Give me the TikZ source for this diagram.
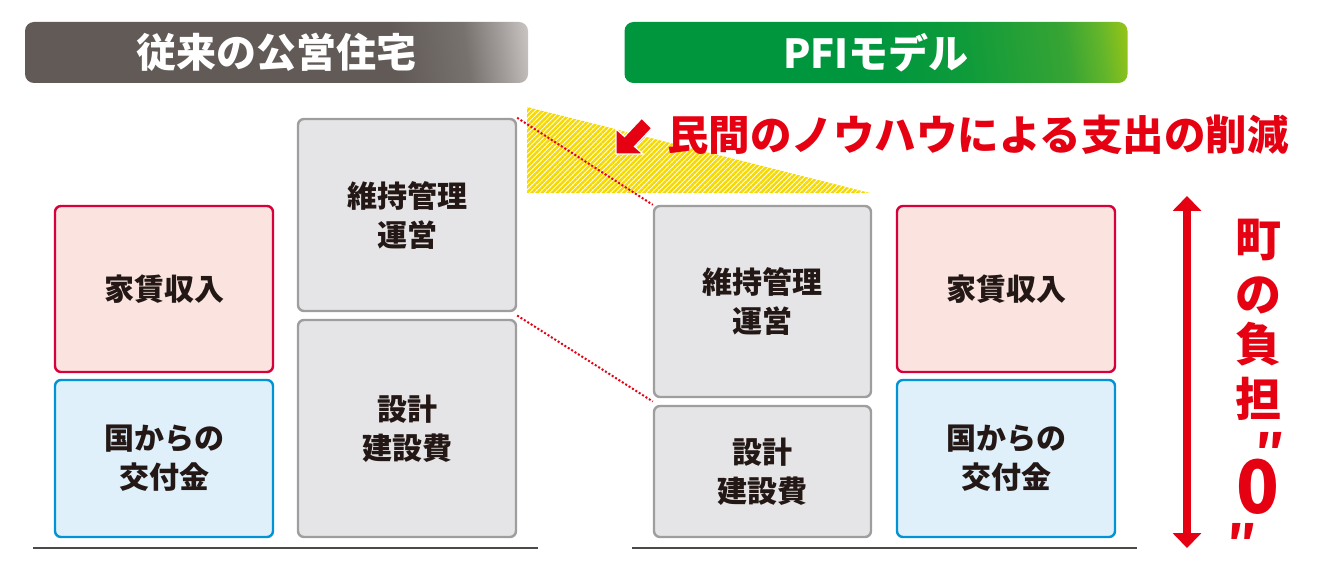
\documentclass[tikz,border=0pt]{standalone}
\usepackage{fontspec}
\setmainfont{Noto Sans CJK JP}
\usepackage{graphicx}
\usetikzlibrary{arrows.meta,patterns.meta,calc}

\definecolor{txt}{HTML}{231815}
\definecolor{redL}{HTML}{D7003A}
\definecolor{redF}{HTML}{FBE4DF}
\definecolor{blueL}{HTML}{0093D6}
\definecolor{blueF}{HTML}{DFF0FA}
\definecolor{grayL}{HTML}{9E9E9F}
\definecolor{grayF}{HTML}{E5E5E7}
\definecolor{accent}{HTML}{E50012}
\definecolor{hatchY}{HTML}{F5D800}
\definecolor{baseL}{HTML}{4D4947}
\definecolor{hdA}{HTML}{615A57}
\definecolor{hdB}{HTML}{78726F}
\definecolor{hdC}{HTML}{A29D9A}
\definecolor{hdD}{HTML}{D2CECB}
\definecolor{gnA}{HTML}{00963E}
\definecolor{gnB}{HTML}{0F9B3A}
\definecolor{gnC}{HTML}{37A434}
\definecolor{gnD}{HTML}{62B52B}
\definecolor{gnE}{HTML}{A3C812}

\pgfdeclarehorizontalshading{grayhead}{100bp}{color(0bp)=(hdA); color(25bp)=(hdA); color(63bp)=(hdA); color(71bp)=(hdB); color(75bp)=(hdC); color(79bp)=(hdD); color(100bp)=(hdD)}
\pgfdeclarehorizontalshading{greenhead}{100bp}{color(0bp)=(gnA); color(25bp)=(gnA); color(50bp)=(gnA); color(60bp)=(gnB); color(71bp)=(gnC); color(75bp)=(gnD); color(79bp)=(gnE); color(100bp)=(gnE)}

\begin{document}
\begin{tikzpicture}[x=1pt,y=-1pt,
  box/.style={rounded corners=6pt, line width=2.4pt, inner sep=0pt, align=center, text=txt,
    font=\fontsize{30pt}{39pt}\selectfont\bfseries},
  rentbox/.style={box, draw=redL, fill=redF},
  govbox/.style={box, draw=blueL, fill=blueF},
  costbox/.style={box, draw=grayL, fill=grayF},
  header/.style={rounded corners=9pt, minimum width=503pt, minimum height=61pt, text=white,
    font=\fontsize{40pt}{40pt}\selectfont\bfseries, inner sep=0pt, shade, shading angle=8},
  dotline/.style={accent, line width=2pt, dash pattern=on 2pt off 2pt},
  vchar/.style={text=accent, font=\fontsize{46pt}{46pt}\selectfont\bfseries, inner sep=0pt},
  baseline/.style={baseL, line width=2pt}
  ]
\useasboundingbox (0,0) rectangle (1324,577);

% headers
\node[header, shading=grayhead] (h1) at (276.5,52.5) {従来の公営住宅};
\node[header, shading=greenhead] (h2) at (876,52.5) {PFIモデル};

% hatched reduction area
\fill[pattern={Lines[angle=45,distance=3.6pt,line width=2.5pt]}, pattern color=hatchY]
  (527,107) -- (870,193) -- (527,193) -- cycle;

% left column
\node[rentbox, minimum width=218pt, minimum height=166pt] (lr) at (164,289) {家賃収入};
\node[govbox, minimum width=218pt, minimum height=157pt] (lg) at (164,458.5) {国からの\\交付金};
\node[costbox, minimum width=218pt, minimum height=192pt] (lm) at (407,215) {維持管理\\運営};
\node[costbox, minimum width=218pt, minimum height=217pt] (ld) at (407,428.5) {設計\\建設費};

% right column
\node[costbox, minimum width=217pt, minimum height=191pt] (rm) at (762.5,301.5) {維持管理\\運営};
\node[costbox, minimum width=217pt, minimum height=131pt] (rd) at (762.5,471.5) {設計\\建設費};
\node[rentbox, minimum width=218pt, minimum height=166pt] (rr) at (1006,289) {家賃収入};
\node[govbox, minimum width=218pt, minimum height=157pt] (rg) at (1006,458.5) {国からの\\交付金};

% dotted guide lines
\draw[dotline] (lm.north east) -- (rm.north west);
\draw[dotline] ($(lm.south east)!0.5!(ld.north east)$) -- ($(rm.south west)!0.5!(rd.north west)$);

% base lines
\coordinate (bl1) at (33,548);
\coordinate (bl2) at (538,548);
\coordinate (br1) at (632,548);
\coordinate (br2) at (1137,548);
\draw[baseline] (bl1) -- (bl2);
\draw[baseline] (br1) -- (br2);

% red block arrow
\filldraw[fill=accent, draw=white, line width=1.2pt, line join=miter]
  (616,154) -- (616,129) -- (624.5,136.5) -- (641.7,118.3) -- (651.7,128.3) -- (634.5,146.5) -- (643,154) -- cycle;

% reduction label
\node[text=accent, font=\fontsize{41.5pt}{42pt}\selectfont\bfseries, inner sep=0pt] (cut) at (978,135)
  {民間のノウハウによる支出の削減};

% vertical double arrow
\coordinate (vt) at (1187,196);
\coordinate (vb) at (1187,548);
\draw[accent, line width=8pt, {Triangle[width=28pt,length=15pt]}-{Triangle[width=28pt,length=15pt]}] (vt) -- (vb);

% vertical label
\node[vchar] (c1) at (1258,240) {町};
\node[vchar] (c2) at (1258,295) {の};
\node[vchar] (c3) at (1258,344) {負};
\node[vchar] (c4) at (1258,399) {担};
\node[vchar] (c5) at (1270,450) {″};
\node[vchar] (c6) at (1257.5,487) {\fontsize{64pt}{64pt}\selectfont\scalebox{1.1}[1.15]{0}};
\node[vchar] (c7) at (1242,541) {″};
\end{tikzpicture}
\end{document}
